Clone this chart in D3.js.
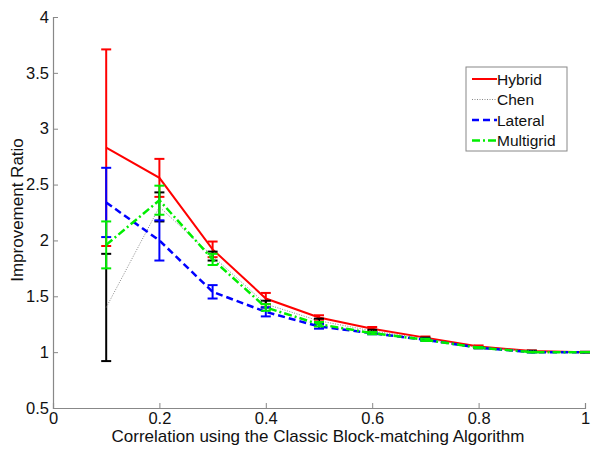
<!DOCTYPE html>
<html>
<head>
<meta charset="utf-8">
<script src="https://cdn.jsdelivr.net/npm/d3@7"></script>
<style>
  body { margin: 0; background: #fff; }
  svg { font-family: Arial, "Liberation Sans", sans-serif; }
</style>
</head>
<body>
<svg id="chart" width="600" height="453"></svg>
<script>
// correlation values (x)
const xs = [0.1, 0.2, 0.3, 0.4, 0.5, 0.6, 0.7, 0.8, 0.9, 1.0];

// mean improvement ratio per method
const hybrid    = [2.83, 2.56, 1.92, 1.48, 1.31, 1.21, 1.13, 1.05, 1.01, 1.00];
const chen      = [1.40, 2.30, 1.86, 1.43, 1.28, 1.19, 1.12, 1.04, 1.01, 1.00];
const lateral   = [2.34, 2.00, 1.54, 1.36, 1.23, 1.17, 1.11, 1.04, 1.00, 1.00];
const multigrid = [1.96, 2.36, 1.83, 1.40, 1.25, 1.17, 1.11, 1.04, 1.00, 1.00];

// error (half-length of bars)
const hybridErr    = [0.88, 0.17, 0.07, 0.05, 0.02, 0.015, 0.01, 0.01, 0.005, 0.003];
const chenErr      = [0.48, 0.13, 0.04, 0.03, 0.02, 0.01, 0.01, 0.005, 0.003, 0.002];
const lateralErr   = [0.31, 0.18, 0.06, 0.04, 0.02, 0.01, 0.01, 0.005, 0.003, 0.002];
const multigridErr = [0.21, 0.13, 0.05, 0.03, 0.02, 0.01, 0.01, 0.005, 0.003, 0.002];

const xTicks = [0, 0.2, 0.4, 0.6, 0.8, 1];
const yTicks = [0.5, 1, 1.5, 2, 2.5, 3, 3.5, 4];

const series = [
  { name: 'Hybrid',    vals: hybrid,    err: hybridErr,    color: '#ff0000', width: 2,   dash: null },
  { name: 'Chen',      vals: chen,      err: chenErr,      color: '#000000', width: 1,   dash: '1,1.5', lineColor: '#888' },
  { name: 'Lateral',   vals: lateral,   err: lateralErr,   color: '#0000ff', width: 2.5, dash: '7,4' },
  { name: 'Multigrid', vals: multigrid, err: multigridErr, color: '#00ee00', width: 2.5, dash: '8,3,2,3' }
];

const svg = d3.select('#chart');
const x = d3.scaleLinear().domain([0, 1]).range([53, 585]);
const y = d3.scaleLinear().domain([0.5, 4]).range([408, 17]);

// axes (ticks inward, no box)
const axisColor = '#888';
const xAxis = svg.append('g').attr('transform', 'translate(0,408)')
  .call(d3.axisBottom(x).tickValues(xTicks).tickSize(-5).tickPadding(4).tickFormat(d3.format('')));
const yAxis = svg.append('g').attr('transform', 'translate(53,0)')
  .call(d3.axisLeft(y).tickValues(yTicks).tickSize(-5).tickPadding(4).tickFormat(d3.format('')));
[xAxis, yAxis].forEach(a => {
  a.select('.domain').attr('stroke', axisColor).attr('stroke-width', 1.2);
  a.selectAll('.tick line').attr('stroke', axisColor);
  a.selectAll('.tick text').attr('fill', '#111').attr('font-size', 16.5);
});

svg.append('text')
  .attr('x', 318).attr('y', 442)
  .attr('text-anchor', 'middle').attr('font-size', 17).attr('fill', '#111')
  .text('Correlation using the Classic Block-matching Algorithm');

svg.append('text')
  .attr('transform', 'translate(23,210) rotate(-90)')
  .attr('text-anchor', 'middle').attr('font-size', 17).attr('fill', '#111')
  .text('Improvement Ratio');

const line = d3.line().x(d => x(d[0])).y(d => y(d[1]));
const cap = 5;

series.forEach(s => {
  const g = svg.append('g');
  // error bars
  xs.forEach((xv, i) => {
    const lo = y(s.vals[i] - s.err[i]), hi = y(s.vals[i] + s.err[i]), cx = x(xv);
    g.append('line').attr('x1', cx).attr('x2', cx).attr('y1', lo).attr('y2', hi)
      .attr('stroke', s.color).attr('stroke-width', 2);
    [lo, hi].forEach(yy => g.append('line')
      .attr('x1', cx - cap).attr('x2', cx + cap).attr('y1', yy).attr('y2', yy)
      .attr('stroke', s.color).attr('stroke-width', 2));
  });
  g.append('path')
    .datum(xs.map((xv, i) => [xv, s.vals[i]]))
    .attr('d', line)
    .attr('fill', 'none')
    .attr('stroke', s.lineColor || s.color)
    .attr('stroke-width', s.width)
    .attr('stroke-dasharray', s.dash);
});

// legend
const lg = svg.append('g');
lg.append('rect').attr('x', 466).attr('y', 67).attr('width', 101).attr('height', 84)
  .attr('fill', '#fff').attr('stroke', '#888');
series.forEach((s, i) => {
  const yy = 79 + i * 20.5;
  lg.append('line').attr('x1', 472).attr('x2', 497).attr('y1', yy).attr('y2', yy)
    .attr('stroke', s.lineColor || s.color).attr('stroke-width', s.width)
    .attr('stroke-dasharray', s.dash);
  lg.append('text').attr('x', 497).attr('y', yy + 5.5).attr('font-size', 15.5).attr('fill', '#111')
    .text(s.name);
});
</script>
</body>
</html>
